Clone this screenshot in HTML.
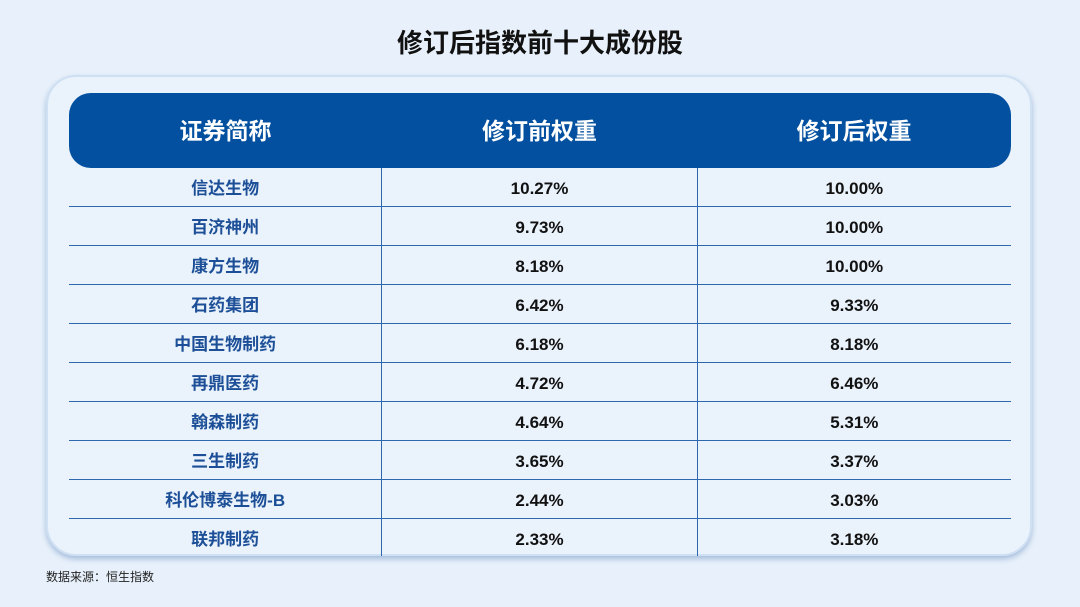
<!DOCTYPE html>
<html><head><meta charset="utf-8"><style>
body{margin:0;width:1080px;height:607px;background:#e8f1fb;position:relative;overflow:hidden;font-family:"Liberation Sans","Noto Sans CJK SC",sans-serif}
.title{position:absolute;top:23px;left:0;width:1080px;text-align:center;font-size:26px;font-weight:bold;color:#111}
.card{position:absolute;left:46px;top:75px;width:986px;height:481px;border-radius:30px;background:#eaf2fb;border:2px solid #cfe0f3;box-shadow:0 3px 6px rgba(40,90,160,.35);box-sizing:border-box}
.head{position:absolute;left:69px;top:93px;width:942px;height:75px;background:#02509f;border-radius:22px;display:flex}
.head div{color:#fff;font-size:23px;font-weight:bold;line-height:77px;text-align:center}
.row{position:absolute;left:69px;width:942px;height:39px;display:flex;border-bottom:1px solid #2d67ad;box-sizing:border-box}
.row div{line-height:42px;text-align:center;font-size:17px;font-weight:bold}
.c1{width:313px;color:#1c4f97;border-right:1px solid #2d67ad}
.c2{width:315px;color:#111;border-right:1px solid #2d67ad}
.c3{width:314px;color:#111}
.src{position:absolute;left:46px;top:568px;font-size:12px;color:#222}
</style></head><body>
<div class="title">修订后指数前十大成份股</div>
<div class="card"></div>
<div class="head"><div style="width:313px">证券简称</div><div style="width:315px">修订前权重</div><div style="width:314px">修订后权重</div></div>
<div class="row" style="top:168px"><div class="c1">信达生物</div><div class="c2">10.27%</div><div class="c3">10.00%</div></div>
<div class="row" style="top:207px"><div class="c1">百济神州</div><div class="c2">9.73%</div><div class="c3">10.00%</div></div>
<div class="row" style="top:246px"><div class="c1">康方生物</div><div class="c2">8.18%</div><div class="c3">10.00%</div></div>
<div class="row" style="top:285px"><div class="c1">石药集团</div><div class="c2">6.42%</div><div class="c3">9.33%</div></div>
<div class="row" style="top:324px"><div class="c1">中国生物制药</div><div class="c2">6.18%</div><div class="c3">8.18%</div></div>
<div class="row" style="top:363px"><div class="c1">再鼎医药</div><div class="c2">4.72%</div><div class="c3">6.46%</div></div>
<div class="row" style="top:402px"><div class="c1">翰森制药</div><div class="c2">4.64%</div><div class="c3">5.31%</div></div>
<div class="row" style="top:441px"><div class="c1">三生制药</div><div class="c2">3.65%</div><div class="c3">3.37%</div></div>
<div class="row" style="top:480px"><div class="c1">科伦博泰生物-B</div><div class="c2">2.44%</div><div class="c3">3.03%</div></div>
<div class="row" style="top:519px;border-bottom:none;height:37px"><div class="c1">联邦制药</div><div class="c2">2.33%</div><div class="c3">3.18%</div></div>
<div class="src">数据来源：恒生指数</div>
</body></html>
